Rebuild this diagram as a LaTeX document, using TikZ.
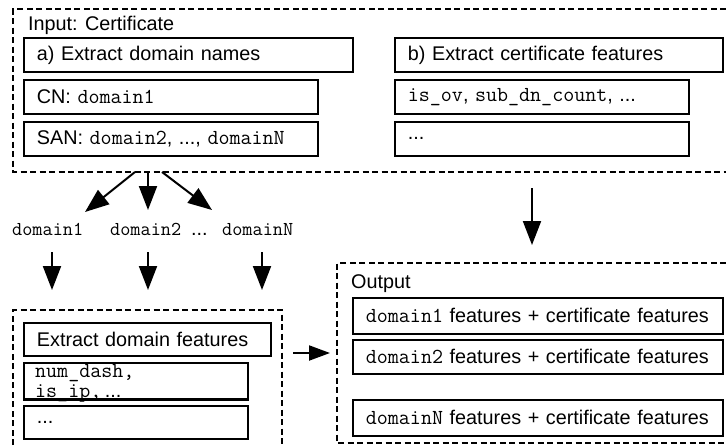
\documentclass[tikz,border=0pt]{standalone}
\usepackage{fontspec}
\setmainfont{Liberation Sans}
\usetikzlibrary{arrows.meta}
\newcommand\mtt[1]{{\fontsize{21.4}{22}\selectfont\ttfamily #1}}
\begin{document}
\begin{tikzpicture}[x=1pt,y=-1pt,
  box/.style={draw, line width=1.8pt, anchor=north west, inner xsep=13pt, inner ysep=0pt,
    align=left, font=\fontsize{19.8}{22}\selectfont},
  cont/.style={draw, line width=1.8pt, dash pattern=on 6pt off 3.5pt},
  arr/.style={line width=2pt, -{Triangle[length=24pt,width=18pt]}},
  sarr/.style={line width=2pt, -{Triangle[length=21pt,width=15pt]}},
  lbl/.style={font=\fontsize{19.8}{22}\selectfont, inner sep=0pt},
  rowlbl/.style={font=\fontsize{19.7}{20}\selectfont\ttfamily, inner sep=0pt, anchor=base west},
]
\useasboundingbox (0,0) rectangle (726,445);

% containers
\draw[cont] (726,9) -| (13,172) -- (726,172);
\draw[cont] (13,445) |- (282,310) -- (282,445);
\draw[cont] (726,263) -| (337,443) -- (726,443);

\node[lbl, anchor=base west] (inlbl) at (28,30) {Input: Certificate};
\node[lbl, anchor=base west] (outlbl) at (351,288) {Output};

% input boxes
\node[box, text width=303pt, minimum height=34pt] (a) at (23,37) {a) Extract domain names};
\node[box, text width=268pt, minimum height=34pt] (cn) at (23,79) {CN: \mtt{domain1}};
\node[box, text width=268pt, minimum height=34pt] (san) at (23,121) {\mbox{SAN: \mtt{domain2}, ..., \mtt{domainN}}};
\node[box, text width=302pt, minimum height=34pt] (b) at (394,37) {b) Extract certificate features};
\node[box, text width=268pt, minimum height=34pt] (isov) at (394,79) {\mbox{\mtt{is\_ov}, \mtt{sub\_dn\_count}, ...}};
\node[box, text width=268pt, minimum height=34pt] (bdots) at (394,121) {...};

% domain labels
\node[rowlbl] (d1) at (12,235) {domain1};
\node[rowlbl] (d2) at (110,235) {domain2};
\node[lbl, anchor=base west] (ddots) at (191,235) {...};
\node[rowlbl] (dN) at (222,235) {domainN};

% domain feature boxes
\node[box, text width=221pt, minimum height=33pt] (edf) at (23,322) {Extract domain features};
\node[box, text width=198pt, minimum height=36pt] (numdash) at (23,362) {};
\node[rowlbl, font=\fontsize{21.4}{22}\selectfont\ttfamily] (nd1) at (35,377) {num\_dash,};
\node[rowlbl, font=\fontsize{21.4}{22}\selectfont\ttfamily] (nd2) at (35,397) {is\_ip,\,\normalfont\fontsize{19.8}{22}\selectfont ...};
\draw[line width=1.8pt] (numdash.south west) -- (numdash.south east);
\node[box, text width=198pt, minimum height=33pt] (edots) at (23,405) {...};

% output boxes
\node[box, text width=344pt, minimum height=36pt] (o1) at (352,297) {\mbox{\mtt{domain1} features + certificate features}};
\node[box, text width=344pt, minimum height=34pt] (o2) at (352,339) {\mbox{\mtt{domain2} features + certificate features}};
\node[box, text width=344pt, minimum height=36pt] (oN) at (352,399) {\mbox{\mtt{domainN} features + certificate features}};

% arrow coordinates
\coordinate (s1) at (135,172); \coordinate (t1) at (85,212);
\coordinate (s2) at (148,172); \coordinate (t2) at (148,210);
\coordinate (s3) at (162,172); \coordinate (t3) at (212,210);
\coordinate (r1s) at (52,252);  \coordinate (r1t) at (52,290);
\coordinate (r2s) at (148,252); \coordinate (r2t) at (148,290);
\coordinate (r3s) at (262,252); \coordinate (r3t) at (262,290);
\coordinate (hs) at (293,353); \coordinate (ht) at (330,353);
\coordinate (bs) at (532,188); \coordinate (bt) at (532,245);

\draw[arr] (s1) -- (t1);
\draw[arr] (s2) -- (t2);
\draw[arr] (s3) -- (t3);
\draw[arr] (r1s) -- (r1t);
\draw[arr] (r2s) -- (r2t);
\draw[arr] (r3s) -- (r3t);
\draw[sarr] (hs) -- (ht);
\draw[arr] (bs) -- (bt);
\end{tikzpicture}
\end{document}
